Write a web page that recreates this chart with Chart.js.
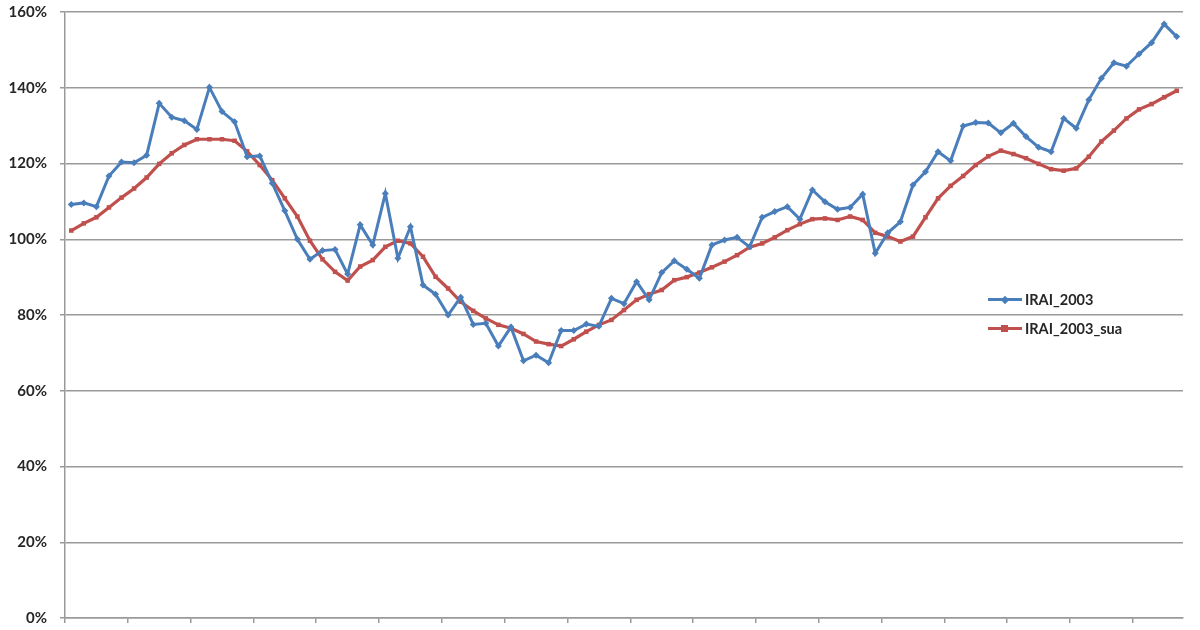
<!DOCTYPE html>
<html>
<head>
<meta charset="utf-8">
<script src="https://cdn.jsdelivr.net/npm/chart.js@4.4.1/dist/chart.umd.min.js"></script>
<style>
  body { margin: 0; background: #fff; }
  #wrap { position: relative; width: 1200px; height: 630px; }
  #legend { position: absolute; left: 988px; top: 285px; font: bold 14.5px Lato, "Open Sans", sans-serif; color: #262626; }
  .row { display: flex; align-items: center; height: 29px; }
  .sample { position: relative; width: 34px; height: 3px; margin-right: 3px; }
  .mark { position: absolute; left: 13px; top: -2.5px; width: 7px; height: 7px; }
  .diamond { transform: rotate(45deg); width: 6px; height: 6px; top: -1.5px; left: 14px; }
</style>
</head>
<body>
<div id="wrap">
  <canvas id="iraiChart" width="1200" height="630"></canvas>
  <div id="legend">
    <div class="row"><span class="sample" style="background:#4a7ebb"><span class="mark diamond" style="background:#4a7ebb"></span></span>IRAI_2003</div>
    <div class="row"><span class="sample" style="background:#c0504d"><span class="mark" style="background:#c0504d"></span></span>IRAI_2003_sua</div>
  </div>
</div>
<script>
// periods (no labels shown on the axis, tick mark every 5 periods)
const periods = Array.from({ length: 89 }, (_, i) => String(i + 1));

const irai2003 = [
  109.2, 109.6, 108.6, 116.7, 120.4, 120.2, 122.2, 135.9, 132.2, 131.3,
  129.0, 140.1, 133.7, 131.0, 121.8, 122.0, 114.8, 107.5, 100.0, 94.7,
  97.0, 97.3, 90.8, 103.8, 98.5, 112.1, 95.0, 103.3, 87.9, 85.5,
  80.0, 84.7, 77.5, 77.8, 71.8, 76.8, 67.9, 69.4, 67.4, 75.9,
  75.9, 77.6, 77.0, 84.4, 83.0, 88.8, 84.0, 91.2, 94.3, 92.1,
  89.7, 98.5, 99.8, 100.5, 98.0, 105.8, 107.3, 108.6, 105.3, 113.0,
  109.9, 107.9, 108.4, 111.9, 96.3, 101.7, 104.6, 114.3, 117.8, 123.1,
  120.7, 129.9, 130.8, 130.7, 128.1, 130.6, 127.1, 124.3, 123.1, 131.9,
  129.3, 136.8, 142.5, 146.6, 145.7, 148.9, 151.9, 156.8, 153.5
];

const irai2003Sua = [
  102.3, 104.2, 105.8, 108.4, 111.0, 113.4, 116.3, 119.9, 122.7, 124.9,
  126.4, 126.4, 126.4, 126.0, 123.2, 119.6, 115.6, 110.8, 106.0, 99.6,
  94.7, 91.4, 89.1, 92.8, 94.5, 98.0, 99.6, 98.9, 95.4, 90.1,
  87.0, 83.5, 81.1, 79.1, 77.4, 76.5, 75.0, 73.0, 72.3, 71.8,
  73.6, 75.6, 77.4, 78.7, 81.3, 84.0, 85.5, 86.6, 89.2, 90.0,
  91.2, 92.6, 94.1, 95.8, 97.9, 98.9, 100.5, 102.4, 104.0, 105.3,
  105.5, 105.1, 106.0, 105.1, 101.7, 100.7, 99.4, 100.7, 105.8, 110.8,
  114.1, 116.7, 119.6, 121.9, 123.4, 122.5, 121.4, 119.9, 118.5, 118.1,
  118.7, 121.8, 125.8, 128.7, 131.9, 134.3, 135.7, 137.5, 139.2
];

const yTicks = [0, 20, 40, 60, 80, 100, 120, 140, 160];

const ctx = document.getElementById('iraiChart').getContext('2d');
new Chart(ctx, {
  type: 'line',
  data: {
    labels: periods,
    datasets: [{
      label: 'IRAI_2003',
      data: irai2003,
      borderColor: '#4a7ebb',
      backgroundColor: '#4a7ebb',
      borderWidth: 3,
      pointStyle: 'rectRot',
      pointRadius: 3.5,
      pointBorderWidth: 0,
      tension: 0
    }, {
      label: 'IRAI_2003_sua',
      data: irai2003Sua,
      borderColor: '#c0504d',
      backgroundColor: '#c0504d',
      borderWidth: 3.2,
      pointStyle: 'rect',
      pointRadius: 3.2,
      pointBorderWidth: 0,
      tension: 0
    }]
  },
  options: {
    responsive: false,
    animation: false,
    layout: { padding: { top: 12, right: 17, left: 0, bottom: 0 } },
    plugins: {
      legend: { display: false },
      tooltip: { enabled: false }
    },
    scales: {
      x: {
        offset: true,
        afterFit: s => { s.height = 12; },
        grid: {
          offset: true,
          drawOnChartArea: false,
          tickLength: 5,
          lineWidth: 1.5,
          color: c => (c.index % 5 === 0 ? '#9a9a9a' : 'rgba(0,0,0,0)')
        },
        border: { color: '#9a9a9a', width: 1.5 },
        ticks: { display: false, autoSkip: false }
      },
      y: {
        min: 0,
        max: 160,
        afterFit: s => { s.width = 65; s.paddingTop = 0; s.paddingBottom = 0; },
        afterBuildTicks: s => { s.ticks = yTicks.map(v => ({ value: v })); },
        grid: { color: '#9a9a9a', lineWidth: 1.5, tickLength: 5 },
        border: { color: '#9a9a9a', width: 1.5 },
        ticks: {
          padding: 13,
          color: '#262626',
          font: { family: 'Lato', weight: 'bold', size: 15 },
          callback: v => v + '%'
        }
      }
    }
  }
});
</script>
</body>
</html>
